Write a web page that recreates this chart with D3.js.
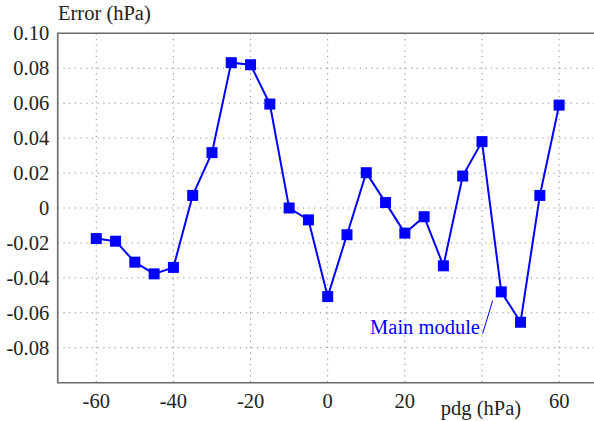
<!DOCTYPE html>
<html>
<head>
<meta charset="utf-8">
<script src="https://cdn.jsdelivr.net/npm/d3@7"></script>
<style>
  body { margin: 0; background: #fff; }
</style>
</head>
<body>
<div id="chart-area"></div>
<script>
// pressure points (hPa) and error of main module (hPa)
var pdg = [-60, -55, -50, -45, -40, -35, -30, -25, -20, -15, -10, -5, 0,
           5, 10, 15, 20, 25, 30, 35, 40, 45, 50, 55, 60];
var errorMain = [-0.0175, -0.019, -0.031, -0.0377, -0.034, 0.0072, 0.0317, 0.0832,
                 0.082, 0.0595, 0.0, -0.0068, -0.0507, -0.0153, 0.0202, 0.0031,
                 -0.0144, -0.005, -0.0331, 0.0183, 0.038, -0.048, -0.0654, 0.0072, 0.0589];
var xTicks = [-60, -40, -20, 0, 20, 40, 60];
var xTickLabels = ["-60", "-40", "-20", "0", "20", "", "60"];
var yTicks = [0.10, 0.08, 0.06, 0.04, 0.02, 0, -0.02, -0.04, -0.06, -0.08];
var yTickLabels = ["0.10", "0.08", "0.06", "0.04", "0.02", "0", "-0.02", "-0.04", "-0.06", "-0.08"];

var W = 594, H = 421;
var margin = { left: 57.7, top: 33.3, bottom: 38.3 };
var serif = "'Liberation Serif'";

var svg = d3.select("#chart-area")
    .append("svg")
    .attr("width", W)
    .attr("height", H);

var x = d3.scaleLinear().domain([-70, 70]).range([margin.left, margin.left + 540]);
var y = d3.scaleLinear().domain([-0.1, 0.1]).range([H - margin.bottom, margin.top]);

// grid
var grid = svg.append("g").attr("class", "grid");
grid.selectAll(".vgrid")
    .data(xTicks)
    .enter().append("line")
    .attr("x1", function(d) { return x(d); })
    .attr("x2", function(d) { return x(d); })
    .attr("y1", y(0.1))
    .attr("y2", y(-0.1))
    .attr("stroke", "#8a8a8a")
    .attr("stroke-width", 1)
    .attr("stroke-dasharray", "1.2,4.5");
grid.selectAll(".hgrid")
    .data(yTicks.slice(1))
    .enter().append("line")
    .attr("x1", x(-70))
    .attr("x2", x(70))
    .attr("y1", function(d) { return y(d); })
    .attr("y2", function(d) { return y(d); })
    .attr("stroke", "#8a8a8a")
    .attr("stroke-width", 1)
    .attr("stroke-dasharray", "1.2,4.5");

// frame
svg.append("path")
    .attr("d", "M" + x(70) + "," + y(0.1) + "H" + x(-70) + "V" + y(-0.1) + "H" + x(70))
    .attr("fill", "none")
    .attr("stroke", "#6a6a6a")
    .attr("stroke-width", 1.6);

// tick labels
svg.selectAll(".ylab")
    .data(yTicks)
    .enter().append("text")
    .attr("x", margin.left - 8.5)
    .attr("y", function(d) { return y(d); })
    .attr("dy", "0.34em")
    .attr("text-anchor", "end")
    .style("font-family", serif)
    .style("font-size", "20.5px")
    .attr("fill", "#222")
    .text(function(d, i) { return yTickLabels[i]; });

svg.selectAll(".xlab")
    .data(xTicks)
    .enter().append("text")
    .attr("x", function(d) { return x(d); })
    .attr("y", 408)
    .attr("text-anchor", "middle")
    .style("font-family", serif)
    .style("font-size", "20.5px")
    .attr("fill", "#222")
    .text(function(d, i) { return xTickLabels[i]; });

// axis titles
svg.append("text")
    .attr("x", 58)
    .attr("y", 20)
    .style("font-family", serif)
    .style("font-size", "20.5px")
    .attr("fill", "#222")
    .text("Error (hPa)");
svg.append("text")
    .attr("x", 481)
    .attr("y", 414.5)
    .attr("text-anchor", "middle")
    .style("font-family", serif)
    .style("font-size", "20.5px")
    .attr("fill", "#222")
    .text("pdg (hPa)");

// series
var data = pdg.map(function(p, i) { return { p: p, e: errorMain[i] }; });
var line = d3.line()
    .x(function(d) { return x(d.p); })
    .y(function(d) { return y(d.e); });

svg.append("path")
    .attr("d", line(data))
    .attr("fill", "none")
    .attr("stroke", "#0000ff")
    .attr("stroke-width", 2);

var s = 11;
svg.selectAll(".marker")
    .data(data)
    .enter().append("rect")
    .attr("x", function(d) { return x(d.p) - s / 2; })
    .attr("y", function(d) { return y(d.e) - s / 2; })
    .attr("width", s)
    .attr("height", s)
    .attr("fill", "#0000ff");

// annotation for the 45 hPa point
var ap = data[21];
var ax = x(ap.p), ay = y(ap.e);
svg.append("line")
    .attr("x1", ax - 8.6).attr("y1", ay + 8.7)
    .attr("x2", ax - 18.6).attr("y2", ay + 41.7)
    .attr("stroke", "#0000ff")
    .attr("stroke-width", 1);
svg.append("text")
    .attr("x", ax - 21.3)
    .attr("y", ay + 41.7)
    .attr("text-anchor", "end")
    .style("font-family", serif)
    .style("font-size", "20.5px")
    .attr("fill", "#0000ff")
    .text("Main module");
</script>
</body>
</html>
